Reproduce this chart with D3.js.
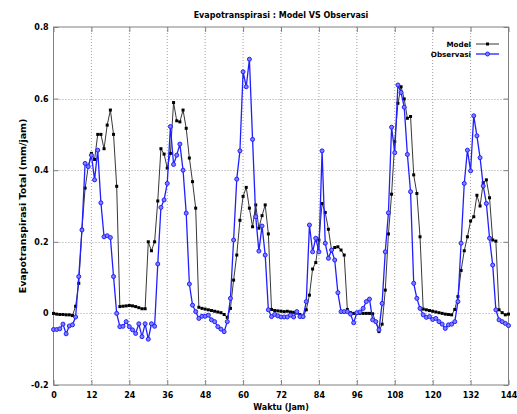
<!DOCTYPE html>
<html>
<head>
<meta charset="utf-8">
<script src="https://cdn.jsdelivr.net/npm/d3@7"></script>
<style>
  html, body { margin: 0; padding: 0; background: #fff; }
  svg { display: block; }
  text { font-family: "DejaVu Sans", sans-serif; fill: #000; }
</style>
</head>
<body>
<svg id="chart" width="517" height="414"></svg>
<script>
const hours = d3.range(0, 145);
const modelValues = [
  0.0, -0.002, -0.003, -0.003, -0.004, -0.004, -0.006, 0.02, 0.084, 0.235,
  0.35, 0.41, 0.447, 0.43, 0.50, 0.50, 0.46, 0.526, 0.568, 0.50,
  0.355, 0.019, 0.02, 0.021, 0.022, 0.021, 0.019, 0.016, 0.013, 0.013,
  0.20, 0.175, 0.20, 0.314, 0.46, 0.445, 0.406, 0.447, 0.589, 0.538,
  0.535, 0.568, 0.517, 0.434, 0.368, 0.294, 0.017, 0.014, 0.012, 0.01,
  0.008, 0.006, 0.004, 0.002, -0.003, -0.011, 0.014, 0.093, 0.163, 0.26,
  0.327, 0.352, 0.294, 0.242, 0.303, 0.238, 0.273, 0.303, 0.222, 0.011,
  0.008, 0.007, 0.006, 0.005, 0.006, 0.004, 0.003, 0.001, -0.003, -0.008,
  0.01, 0.051, 0.124, 0.142, 0.205, 0.307, 0.282, 0.235, 0.177, 0.184,
  0.186, 0.177, 0.163, 0.011, 0.002, 0.0, 0.0, 0.0, 0.0, 0.0,
  0.0, -0.001, -0.023, -0.051, -0.03, 0.065, 0.222, 0.333, 0.48, 0.587,
  0.633, 0.599, 0.545, 0.55, 0.387, 0.335, 0.214, 0.012, 0.01, 0.008,
  0.006, 0.004, 0.002, 0.0, -0.002, -0.003, -0.004, 0.011, 0.047, 0.12,
  0.175, 0.214, 0.258, 0.27, 0.33, 0.30, 0.365, 0.373, 0.323, 0.205,
  0.202, 0.01, 0.002, -0.004, -0.002
];
const obsValues = [
  -0.045, -0.045, -0.043, -0.03, -0.057, -0.035, -0.032, -0.01, 0.103, 0.233,
  0.419, 0.41, 0.442, 0.373, 0.456, 0.309, 0.214, 0.217, 0.212, 0.103,
  0.0, -0.037, -0.036, -0.023, -0.037, -0.046, -0.056, -0.029, -0.065, -0.029,
  -0.072, -0.029, -0.036, 0.138, 0.296, 0.317, 0.363, 0.522, 0.416, 0.442,
  0.473, 0.40, 0.28, 0.082, 0.023, 0.005, -0.014, -0.008, -0.008, -0.005,
  -0.018, -0.023, -0.037, -0.044, -0.051, -0.023, 0.042, 0.205, 0.375, 0.454,
  0.675, 0.633, 0.71, 0.486, 0.27, 0.174, 0.244, 0.163, 0.01, -0.009,
  -0.003, -0.007, -0.01, -0.01, -0.01, -0.005, -0.01, 0.005, -0.009, -0.009,
  0.033, 0.247, 0.172, 0.21, 0.172, 0.454, 0.196, 0.154, 0.177, 0.149,
  0.058, 0.005, 0.005, 0.005, -0.002, -0.026, 0.002, 0.004, 0.014, 0.033,
  0.04, -0.018, -0.023, -0.046, 0.028, 0.172, 0.281, 0.52, 0.449, 0.638,
  0.617, 0.576, 0.444, 0.34, 0.084, 0.042, 0.014, -0.004, -0.011, -0.009,
  -0.017, -0.014, -0.023, -0.03, -0.042, -0.032, -0.03, -0.023, 0.033, 0.196,
  0.363, 0.456, 0.398, 0.552, 0.496, 0.435, 0.356, 0.307, 0.21, 0.135,
  0.01, -0.018, -0.023, -0.028, -0.034
];
const xTicks = [0, 12, 24, 36, 48, 60, 72, 84, 96, 108, 120, 132, 144];
const yTicks = [-0.2, 0, 0.2, 0.4, 0.6, 0.8];
const yTickLabels = ["-0.2", "0", "0.2", "0.4", "0.6", "0.8"];
const seriesNames = ["Model", "Observasi"];
const titleText = "Evapotranspirasi : Model VS Observasi";
const xLabel = "Waktu (Jam)";
const yLabel = "Evapotranspirasi Total (mm/jam)";

const W = 517, H = 414;
const M = { left: 53.5, right: 508.5, top: 27, bottom: 385 };
const svg = d3.select("#chart");

const x = d3.scaleLinear().domain([0, 144]).range([M.left, M.right]);
const y = d3.scaleLinear().domain([-0.2, 0.8]).range([M.bottom, M.top]);

// grid
const grid = svg.append("g");
xTicks.slice(1, -1).forEach(t => {
  grid.append("line").attr("x1", x(t)).attr("x2", x(t)).attr("y1", M.top).attr("y2", M.bottom)
    .attr("stroke", "#a0a0a0").attr("stroke-width", 1).attr("stroke-dasharray", "1,2");
});
yTicks.slice(1, -1).forEach(t => {
  grid.append("line").attr("x1", M.left).attr("x2", M.right).attr("y1", Math.round(y(t)) + 0.5).attr("y2", Math.round(y(t)) + 0.5)
    .attr("stroke", "#a0a0a0").attr("stroke-width", 1).attr("stroke-dasharray", "1,2");
});

// axes (inward ticks, mirrored)
const tickLen = 5;
const bottomAxis = d3.axisBottom(x).tickValues(xTicks).tickSize(-tickLen).tickPadding(7).tickFormat(d3.format("d"));
const topAxis = d3.axisTop(x).tickValues(xTicks).tickSize(-tickLen).tickFormat("");
const leftAxis = d3.axisLeft(y).tickValues(yTicks).tickSize(-tickLen).tickPadding(5)
  .tickFormat((d, i) => yTickLabels[i]);
const rightAxis = d3.axisRight(y).tickValues(yTicks).tickSize(-tickLen).tickFormat("");

function styleAxis(g) {
  g.selectAll(".tick line").attr("stroke", "#808080");
  g.selectAll(".tick text").attr("font-family", "DejaVu Sans, sans-serif").attr("font-size", 8).attr("font-weight", "bold").attr("fill", "#000");
}
svg.append("g").attr("transform", `translate(0,${M.bottom})`).call(bottomAxis).call(styleAxis);
svg.append("g").attr("transform", `translate(0,${M.top})`).call(topAxis).call(styleAxis);
svg.append("g").attr("transform", `translate(${M.left},0)`).call(leftAxis).call(styleAxis);
svg.append("g").attr("transform", `translate(${M.right},0)`).call(rightAxis).call(styleAxis);
svg.selectAll(".domain").remove();
svg.append("rect").attr("x", M.left).attr("y", M.top).attr("width", M.right - M.left).attr("height", M.bottom - M.top)
  .attr("fill", "none").attr("stroke", "#808080").attr("stroke-width", 1);

// series
const line = d3.line().x(d => x(d[0])).y(d => y(d[1]));
const modelData = hours.map((h, i) => [h, modelValues[i]]);
const obsData = hours.map((h, i) => [h, obsValues[i]]);

const modelColor = "#202020";
const obsColor = "#2020ff";

svg.append("path").datum(modelData).attr("d", line).attr("fill", "none").attr("stroke", modelColor).attr("stroke-width", 0.9);
svg.append("g").selectAll("rect").data(modelData).join("rect")
  .attr("x", d => x(d[0]) - 1.5).attr("y", d => y(d[1]) - 1.5).attr("width", 3).attr("height", 3).attr("fill", "#000");

svg.append("path").datum(obsData).attr("d", line).attr("fill", "none").attr("stroke", obsColor).attr("stroke-width", 1.3);
svg.append("g").selectAll("circle").data(obsData).join("circle")
  .attr("cx", d => x(d[0])).attr("cy", d => y(d[1])).attr("r", 2).attr("fill", "#8080ff").attr("stroke", obsColor).attr("stroke-width", 1);

// legend
const lg = svg.append("g");
const legY = [44, 54];
const legColors = [modelColor, obsColor];
seriesNames.forEach((name, i) => {
  lg.append("text").attr("x", 471).attr("y", legY[i] + 2.5).attr("text-anchor", "end")
    .attr("font-size", 7.2).attr("font-weight", "bold").text(name);
  lg.append("line").attr("x1", 476).attr("x2", 499).attr("y1", legY[i]).attr("y2", legY[i])
    .attr("stroke", legColors[i]).attr("stroke-width", i === 0 ? 0.9 : 1.3);
  if (i === 0) {
    lg.append("rect").attr("x", 486).attr("y", legY[i] - 1.5).attr("width", 3).attr("height", 3).attr("fill", "#000");
  } else {
    lg.append("circle").attr("cx", 487.5).attr("cy", legY[i]).attr("r", 2).attr("fill", "#8080ff").attr("stroke", obsColor);
  }
});

// titles
svg.append("text").attr("x", 281).attr("y", 18).attr("text-anchor", "middle").attr("font-size", 8).attr("font-weight", "bold").text(titleText);
svg.append("text").attr("x", 281).attr("y", 410).attr("text-anchor", "middle").attr("font-size", 8).attr("font-weight", "bold").text(xLabel);
svg.append("text").attr("transform", `translate(26,${(M.top + M.bottom) / 2}) rotate(-90)`).attr("text-anchor", "middle")
  .attr("font-size", 9.5).attr("font-weight", "bold").text(yLabel);
</script>
</body>
</html>
